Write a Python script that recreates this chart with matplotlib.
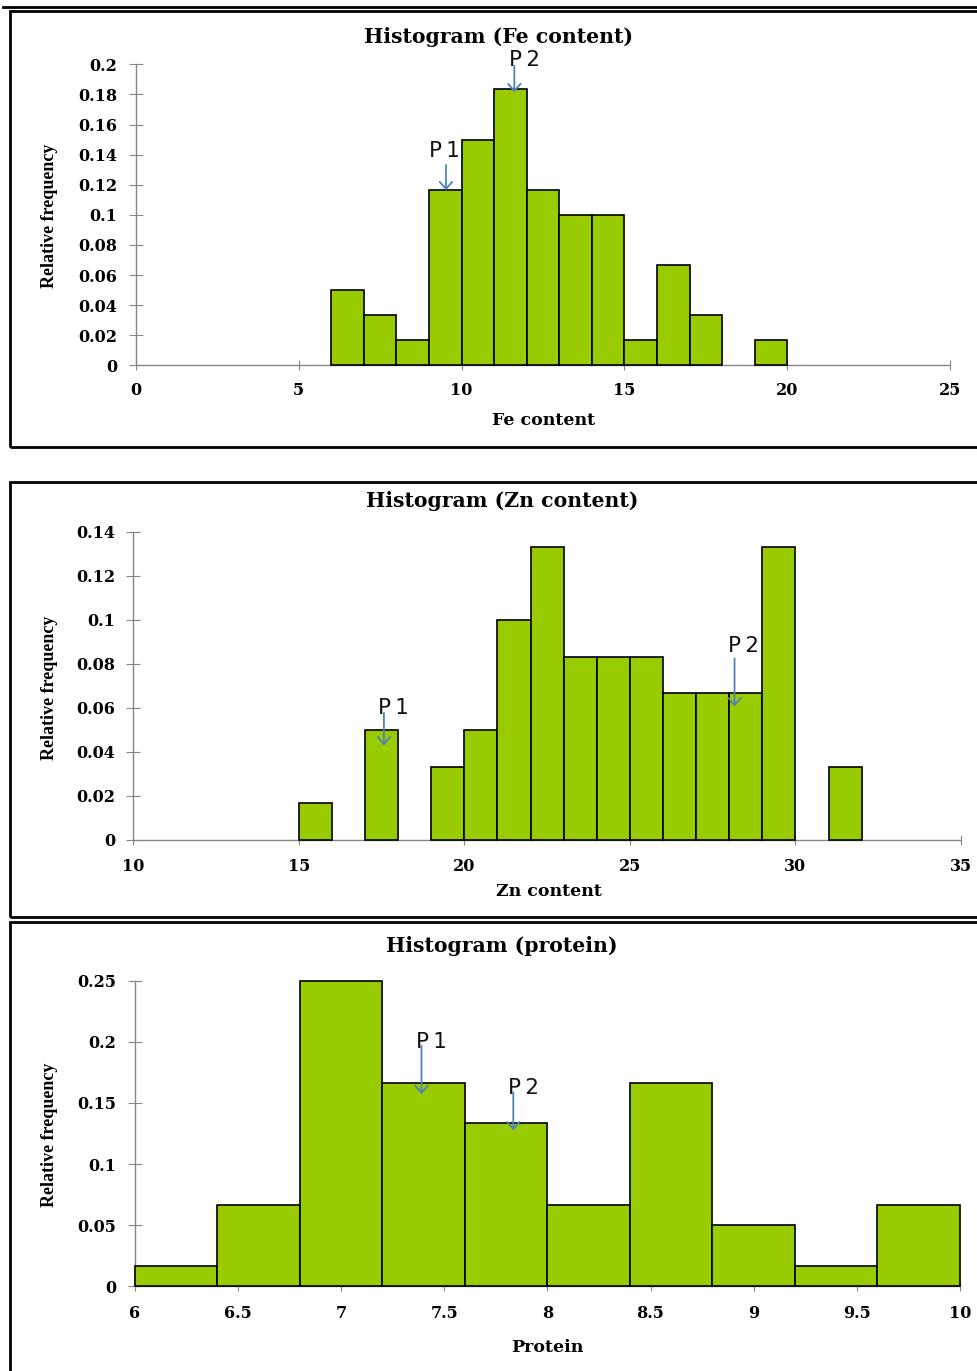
import numpy as np
import matplotlib
matplotlib.use("Agg")
import matplotlib.pyplot as plt
from matplotlib.patches import Rectangle
from matplotlib.lines import Line2D

# Histogram data (lower bin edge, relative frequency)
fe_bins = [6, 7, 8, 9, 10, 11, 12, 13, 14, 15, 16, 17, 19]
fe_freq = [0.05, 0.0333, 0.0167, 0.1167, 0.15, 0.1833, 0.1167, 0.1, 0.1, 0.0167, 0.0667, 0.0333, 0.0167]
fe_ticks = [0, 5, 10, 15, 20, 25]
fe_yticks = [0, 0.02, 0.04, 0.06, 0.08, 0.1, 0.12, 0.14, 0.16, 0.18, 0.2]
fe_marks = {"P1": 9.52, "P2": 11.62}

zn_bins = [15, 17, 19, 20, 21, 22, 23, 24, 25, 26, 27, 28, 29, 31]
zn_freq = [0.0167, 0.05, 0.0333, 0.05, 0.1, 0.1333, 0.0833, 0.0833, 0.0833, 0.0667, 0.0667, 0.0667, 0.1333, 0.0333]
zn_ticks = [10, 15, 20, 25, 30, 35]
zn_yticks = [0, 0.02, 0.04, 0.06, 0.08, 0.1, 0.12, 0.14]
zn_marks = {"P1": 17.57, "P2": 28.16}

pr_bins = [6.0, 6.4, 6.8, 7.2, 7.6, 8.0, 8.4, 8.8, 9.2, 9.6]
pr_freq = [0.0167, 0.0667, 0.25, 0.1667, 0.1333, 0.0667, 0.1667, 0.05, 0.0167, 0.0667]
pr_ticks = [6, 6.5, 7, 7.5, 8, 8.5, 9, 9.5, 10]
pr_yticks = [0, 0.05, 0.1, 0.15, 0.2, 0.25]
pr_marks = {"P1": 7.39, "P2": 7.835}

W, H = 978, 1371
GREEN = "#99CC00"
GRAY = "#868686"
BLUE = "#4F81BD"
SERIF = "DejaVu Serif"


def px(x):
    return x / W


def py(y):
    return 1 - y / H


fig = plt.figure(figsize=(W / 100, H / 100), dpi=100)


def make_panel(box, bins, freq, width, xlim, xticks, yticks, ylim,
               title, xlabel, tpos, xlpos, ylpos, xpad, arrows):
    l, r, t, b = box
    ax = fig.add_axes([px(l), py(b), px(r) - px(l), py(t) - py(b)])
    ax.bar(bins, freq, width=width, align="edge", color=GREEN,
           edgecolor="black", linewidth=1.2, clip_on=False, zorder=3)
    ax.set_xlim(xlim)
    ax.set_ylim(ylim)
    for s in ["top", "right"]:
        ax.spines[s].set_visible(False)
    for s in ["left", "bottom"]:
        ax.spines[s].set_color(GRAY)
        ax.spines[s].set_linewidth(1.0)
    ax.set_xticks(xticks)
    ax.set_yticks(yticks)
    ax.set_xticklabels([("%g" % v) for v in xticks])
    ax.set_yticklabels([("%g" % v) for v in yticks])
    ax.tick_params(axis="y", direction="inout", length=9.5, color=GRAY, pad=8.5)
    ax.tick_params(axis="x", direction="inout", length=6.5, color=GRAY, pad=xpad)
    for lab in ax.get_xticklabels() + ax.get_yticklabels():
        lab.set_fontfamily(SERIF)
        lab.set_fontweight("bold")
        lab.set_fontsize(11.5)
    ax.patch.set_alpha(0)

    # P1 / P2 markers
    for name, (xa, y0, y1, xt, yt) in arrows.items():
        ax.annotate("", xy=(xa, y1), xytext=(xa, y0),
                    arrowprops=dict(arrowstyle="->,head_length=0.5,head_width=0.45",
                                    color=BLUE, lw=1.3),
                    annotation_clip=False, zorder=5)
        ax.text(xt, yt, name[0] + "\u2009" + name[1], ha="center", va="baseline",
                fontsize=15.5, family="DejaVu Sans", color="#111111",
                zorder=6, clip_on=False)

    fig.text(px(tpos[0]), py(tpos[1]), title, ha="center", va="baseline",
             family=SERIF, fontweight="bold", fontsize=14.7)
    fig.text(px(xlpos[0]), py(xlpos[1]), xlabel, ha="center", va="baseline",
             family=SERIF, fontweight="bold", fontsize=12.5)
    fig.text(px(ylpos[0]), py(ylpos[1]), "Relative frequency", ha="center", va="center",
             rotation=90, family=["Liberation Sans Narrow", "Liberation Serif"],
             fontweight="bold", fontsize=13)
    return ax


make_panel((136, 950, 64.3, 365.3), fe_bins, fe_freq, 1, (0, 25), fe_ticks, fe_yticks, (0, 0.2),
           "Histogram (Fe content)", "Fe content",
           (498.5, 43), (544, 425), (50, 216), 8.5,
           {"P1": (fe_marks["P1"], 0.135, 0.1145, 9.46, 0.1384),
            "P2": (fe_marks["P2"], 0.2009, 0.1796, 11.92, 0.199)})

make_panel((133.3, 961, 532, 840), zn_bins, zn_freq, 1, (10, 35), zn_ticks, zn_yticks, (0, 0.14),
           "Histogram (Zn content)", "Zn content",
           (502, 507), (549, 896), (50, 688), 10,
           {"P1": (zn_marks["P1"], 0.059, 0.0418, 17.85, 0.0573),
            "P2": (zn_marks["P2"], 0.0838, 0.0595, 28.43, 0.0856)})

make_panel((134.7, 960, 980.7, 1286.3), pr_bins, pr_freq, 0.4, (6, 10), pr_ticks, pr_yticks, (0, 0.25),
           "Histogram (protein)", "Protein",
           (501.5, 951.7), (547.5, 1351.7), (50, 1135), 10.5,
           {"P1": (pr_marks["P1"], 0.199, 0.155, 7.44, 0.195),
            "P2": (pr_marks["P2"], 0.161, 0.1254, 7.886, 0.157)})

# panel frames
for (top, bot) in [(11, 447), (482, 917), (922, 1390)]:
    fig.patches.append(Rectangle((px(9.5), py(bot)), px(1000) - px(9.5), py(top) - py(bot),
                                 transform=fig.transFigure, fill=False,
                                 edgecolor="black", linewidth=2))
fig.lines.append(Line2D([px(3), px(978)], [py(7), py(7)], transform=fig.transFigure,
                        color="black", linewidth=2))

plt.savefig("out.png", dpi=100)
